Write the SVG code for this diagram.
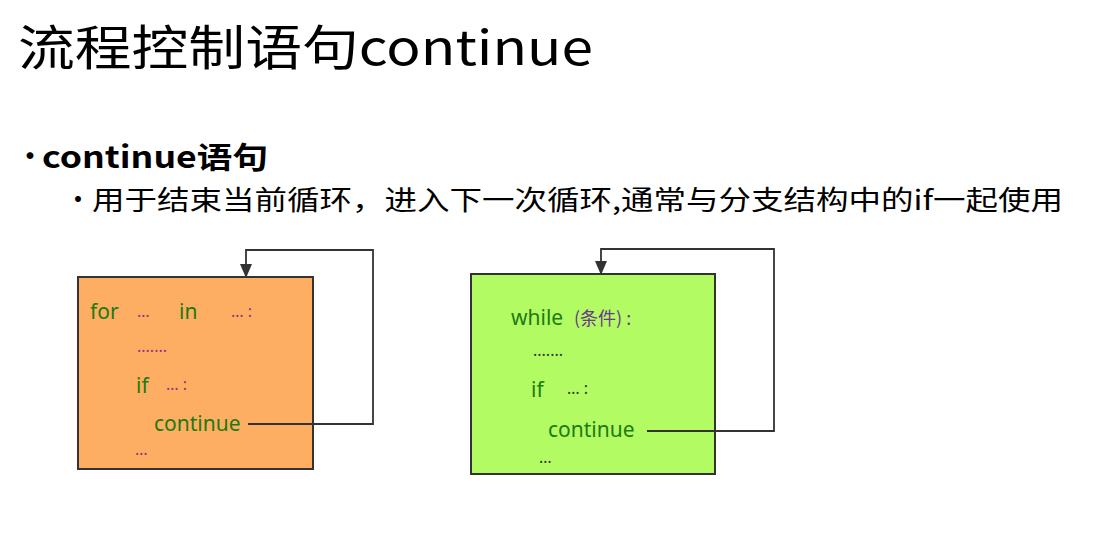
<svg xmlns="http://www.w3.org/2000/svg" width="1107" height="543" viewBox="0 0 1107 543">
<style>
.t{font-family:"Noto Sans CJK SC","Noto Sans",sans-serif;fill:#000}
.g{font-family:"Noto Sans","Noto Sans CJK SC",sans-serif;fill:#1e7a10;font-size:21px}
.p{font-family:"Noto Sans",sans-serif;fill:#9b2d86;font-size:16px}
.d{font-family:"Noto Sans",sans-serif;fill:#333;font-size:16px}
.box{stroke:#333;stroke-width:2}
.c{fill:none;stroke:#333;stroke-width:1.8}
</style>
<defs><marker id="a" markerWidth="14" markerHeight="12" refX="14" refY="6" orient="auto" markerUnits="userSpaceOnUse" viewBox="0 0 14 12"><path d="M0,0L14,6L0,12z" fill="#333"/></marker></defs>
<rect width="1107" height="543" fill="#fff"/>
<text class="t" x="18" y="65" font-size="48" textLength="575" lengthAdjust="spacingAndGlyphs">流程控制语句continue</text>
<text class="t" x="14" y="168" font-size="32">•</text>
<text class="t" x="42" y="168" font-size="30" font-weight="bold" textLength="226" lengthAdjust="spacingAndGlyphs">continue语句</text>
<text class="t" x="64" y="210" font-size="28">•</text>
<text class="t" x="92" y="210" font-size="27" textLength="971" lengthAdjust="spacingAndGlyphs">用于结束当前循环，进入下一次循环,通常与分支结构中的if一起使用</text>
<g id="forbox">
<rect class="box" x="78" y="277" width="235" height="192" fill="#fdae62"/>
<text class="g" x="90" y="319">for</text><text class="p" x="137" y="317">…</text>
<text class="g" x="179" y="319">in</text><text class="p" x="231" y="317">… :</text>
<text class="p" x="137" y="357">·······</text>
<text class="g" x="136" y="393">if</text><text class="p" x="166" y="390">… :</text>
<text class="g" x="154" y="431">continue</text>
<text class="p" x="135" y="455">…</text>
</g>
<g id="whilebox">
<rect class="box" x="471" y="274" width="244" height="200" fill="#b2fb63"/>
<text class="g" x="511" y="325">while</text><text x="574" y="325" font-family="Noto Sans CJK SC,sans-serif" font-size="18" fill="#6a3a8a">(条件) :</text>
<text class="d" x="533" y="361">·······</text>
<text class="g" x="531" y="397">if</text><text class="d" x="567" y="394">… :</text>
<text class="g" x="548" y="437">continue</text>
<text class="d" x="539" y="463">…</text>
</g>
<g id="connectors">
<path class="c" d="M248,424H373V250H246V278" marker-end="url(#a)"/>
<path class="c" d="M647,431H774V249H601V275" marker-end="url(#a)"/>
</g>
</svg>
